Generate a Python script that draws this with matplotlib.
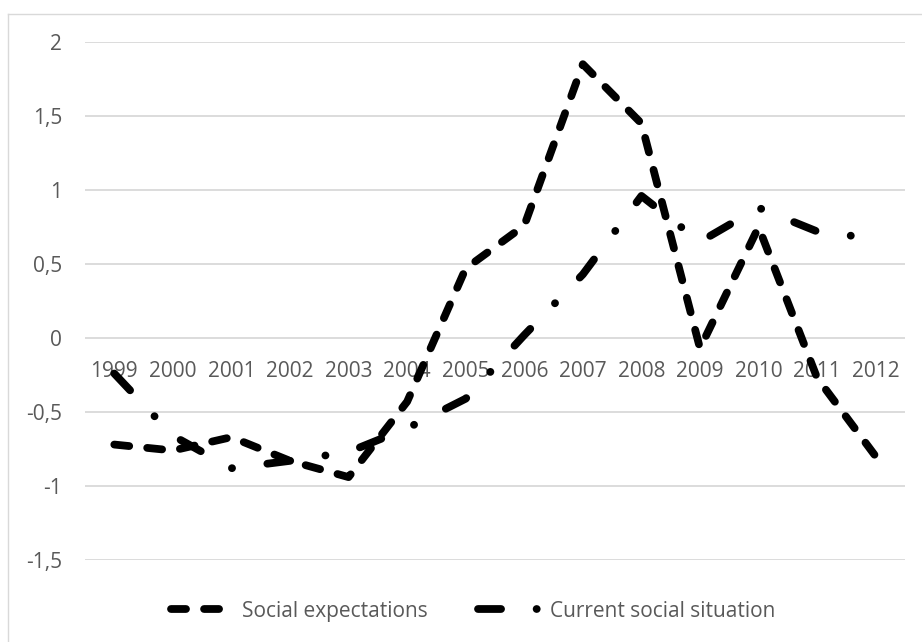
import numpy as np
import matplotlib
matplotlib.use("Agg")
import matplotlib.pyplot as plt
from matplotlib.lines import Line2D
from matplotlib.ticker import FuncFormatter

years = ['1999', '2000', '2001', '2002', '2003', '2004', '2005',
         '2006', '2007', '2008', '2009', '2010', '2011', '2012']
social_expectations = [-0.72, -0.76, -0.67, -0.83, -0.94, -0.43, 0.47,
                       0.76, 1.85, 1.45, -0.07, 0.75, -0.27, -0.80]
current_social_situation = [-0.24, -0.66, -0.88, -0.83, -0.77, -0.61, -0.41,
                            0.02, 0.43, 0.96, 0.65, 0.88, 0.72, 0.67]
y_ticks = [-1.5, -1, -0.5, 0, 0.5, 1, 1.5, 2]

TEXT = '#595959'
GRID = '#d9d9d9'

plt.rcParams['font.family'] = ['Open Sans', 'DejaVu Sans']
plt.rcParams['lines.scale_dashes'] = False

fig = plt.figure(figsize=(9.22, 6.42), dpi=100)
ax = fig.add_axes([85 / 922, 82 / 642, 820 / 922, 518 / 642])

x = np.arange(len(years))
ax.plot(x, social_expectations, color='black', lw=5.6,
        dashes=(10.8, 13.0), dash_capstyle='round', dash_joinstyle='round',
        label='Social expectations')
ax.plot(x, current_social_situation, color='black', lw=5.6,
        dashes=(16.6, 25.6, 0.1, 25.6), dash_capstyle='round',
        dash_joinstyle='round', label='Current social situation')

ax.set_xlim(-0.5, len(years) - 0.5)
ax.set_ylim(-1.5, 2)
ax.set_yticks(y_ticks)
ax.yaxis.set_major_formatter(FuncFormatter(lambda v, p: '{:g}'.format(v).replace('.', ',')))
ax.set_xticks(x, years)

# category axis crosses at zero
ax.spines['bottom'].set_position(('data', 0))
for s in ax.spines.values():
    s.set_visible(False)

ax.tick_params(axis='x', length=0, pad=16.5, labelsize=15, colors=TEXT)
ax.tick_params(axis='y', length=0, pad=16.5, labelsize=15, colors=TEXT)
ax.yaxis.grid(True, color=GRID, lw=1.3)
ax.set_axisbelow(True)

ax.legend(loc='center', bbox_to_anchor=(0.513, 0.048),
          bbox_transform=fig.transFigure, ncol=2, frameon=False,
          fontsize=15, labelcolor=TEXT, handlelength=2.93,
          handletextpad=0.5, columnspacing=2.4)

# chart area border (left and top edges)
fig.add_artist(Line2D([7.5 / 922, 7.5 / 922], [0, 1 - 13.5 / 642],
                      transform=fig.transFigure, color=GRID, lw=1.0))
fig.add_artist(Line2D([7.5 / 922, 1], [1 - 13.5 / 642, 1 - 13.5 / 642],
                      transform=fig.transFigure, color=GRID, lw=1.0))

fig.savefig('out.png', dpi=100, facecolor='white')
